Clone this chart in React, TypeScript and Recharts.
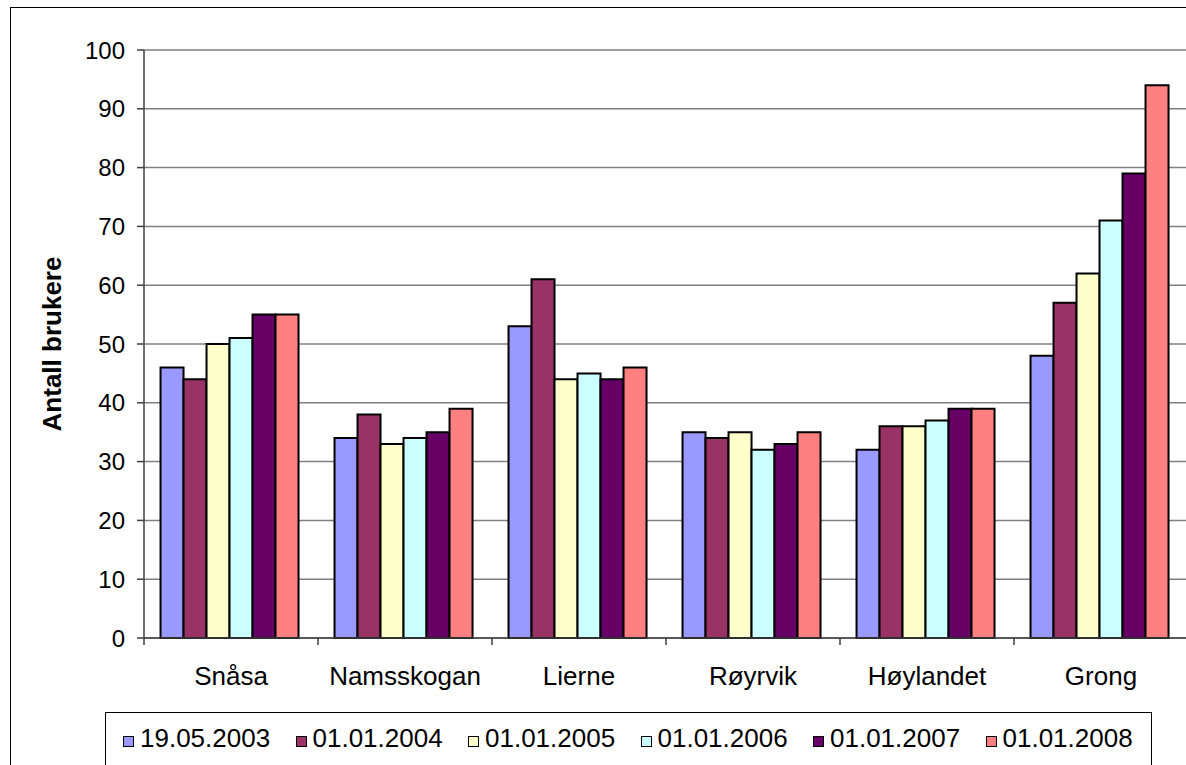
import React from 'react';
import { BarChart, Bar, XAxis, YAxis, CartesianGrid, Label } from 'recharts';

const categories = ['Snåsa', 'Namsskogan', 'Lierne', 'Røyrvik', 'Høylandet', 'Grong'];
const seriesNames = ['19.05.2003', '01.01.2004', '01.01.2005', '01.01.2006', '01.01.2007', '01.01.2008'];
const s2003 = [46, 34, 53, 35, 32, 48];
const s2004 = [44, 38, 61, 34, 36, 57];
const s2005 = [50, 33, 44, 35, 36, 62];
const s2006 = [51, 34, 45, 32, 37, 71];
const s2007 = [55, 35, 44, 33, 39, 79];
const s2008 = [55, 39, 46, 35, 39, 94];
const yTicks = [0, 10, 20, 30, 40, 50, 60, 70, 80, 90, 100];

const colors = ['#9999FF', '#993366', '#FFFFCC', '#CCFFFF', '#660066', '#FF8080'];
const seriesValues = [s2003, s2004, s2005, s2006, s2007, s2008];

const data = categories.map((name, i) => {
  const row: Record<string, string | number> = { name };
  seriesNames.forEach((s, j) => {
    row[s] = seriesValues[j][i];
  });
  return row;
});

const FONT = '"Liberation Sans", Arial, sans-serif';
const PLOT_LEFT = 144;
const PLOT_RIGHT = 1188;
const HALF_BAND = (PLOT_RIGHT - PLOT_LEFT) / categories.length / 2;

function CategoryTick(props: any) {
  const { x, y, payload, index } = props;
  return (
    <g>
      <line x1={x - HALF_BAND} y1={y} x2={x - HALF_BAND} y2={y + 7} stroke="#404040" strokeWidth={1.5} />
      {index === categories.length - 1 && (
        <line x1={x + HALF_BAND} y1={y} x2={x + HALF_BAND} y2={y + 7} stroke="#404040" strokeWidth={1.5} />
      )}
      <text x={x} y={y + 47} textAnchor="middle" fontSize={26} fill="#000" fontFamily={FONT}>
        {payload.value}
      </text>
    </g>
  );
}

export default function App() {
  return (
    <div style={{ position: 'fixed', left: 0, top: 0, width: 1186, height: 765, overflow: 'hidden', background: '#fff', fontFamily: FONT }}>
      <div style={{ position: 'absolute', left: 10, top: 7, width: 1300, height: 900, border: '1.5px solid #000' }} />
      <div style={{ position: 'absolute', left: 0, top: 0 }}>
        <BarChart
          width={1190}
          height={765}
          data={data}
          margin={{ top: 50, right: 2, left: 24, bottom: 67 }}
          barCategoryGap="9.5%"
          barGap={0}
        >
          <CartesianGrid vertical={false} stroke="#808080" strokeWidth={1.5} />
          <XAxis
            dataKey="name"
            height={60}
            tickLine={false}
            tickSize={0}
            tickMargin={0}
            axisLine={{ stroke: '#404040', strokeWidth: 1.5 }}
            tick={<CategoryTick />}
            interval={0}
          />
          <YAxis
            width={120}
            domain={[0, 100]}
            ticks={yTicks}
            interval={0}
            tickSize={7}
            tickMargin={12}
            tickLine={{ stroke: '#404040', strokeWidth: 1.5 }}
            axisLine={{ stroke: '#404040', strokeWidth: 1.5 }}
            tick={{ fontSize: 24, fill: '#000', fontFamily: FONT }}
          >
            <Label
              value="Antall brukere"
              angle={-90}
              position="insideLeft"
              offset={28}
              style={{ fontSize: 26, fontWeight: 'bold', fill: '#000', fontFamily: FONT, textAnchor: 'middle' }}
            />
          </YAxis>
          {seriesNames.map((s, j) => (
            <Bar key={s} dataKey={s} fill={colors[j]} stroke="#000" strokeWidth={2} isAnimationActive={false} />
          ))}
        </BarChart>
      </div>
      <div
        style={{
          position: 'absolute',
          left: 105,
          top: 712,
          width: 1045,
          height: 80,
          border: '1.5px solid #000',
          background: '#fff',
        }}
      >
        {seriesNames.map((s, j) => (
          <div
            key={s}
            style={{
              position: 'absolute',
              left: 17 + j * 172.5,
              top: 11.5,
              display: 'flex',
              alignItems: 'flex-start',
              fontSize: 26,
              lineHeight: '26px',
              color: '#000',
              whiteSpace: 'nowrap',
            }}
          >
            <span
              style={{
                display: 'inline-block',
                width: 9,
                height: 9,
                marginTop: 11,
                background: colors[j],
                border: '1.5px solid #000',
                marginRight: 6,
              }}
            />
            {s}
          </div>
        ))}
      </div>
    </div>
  );
}
